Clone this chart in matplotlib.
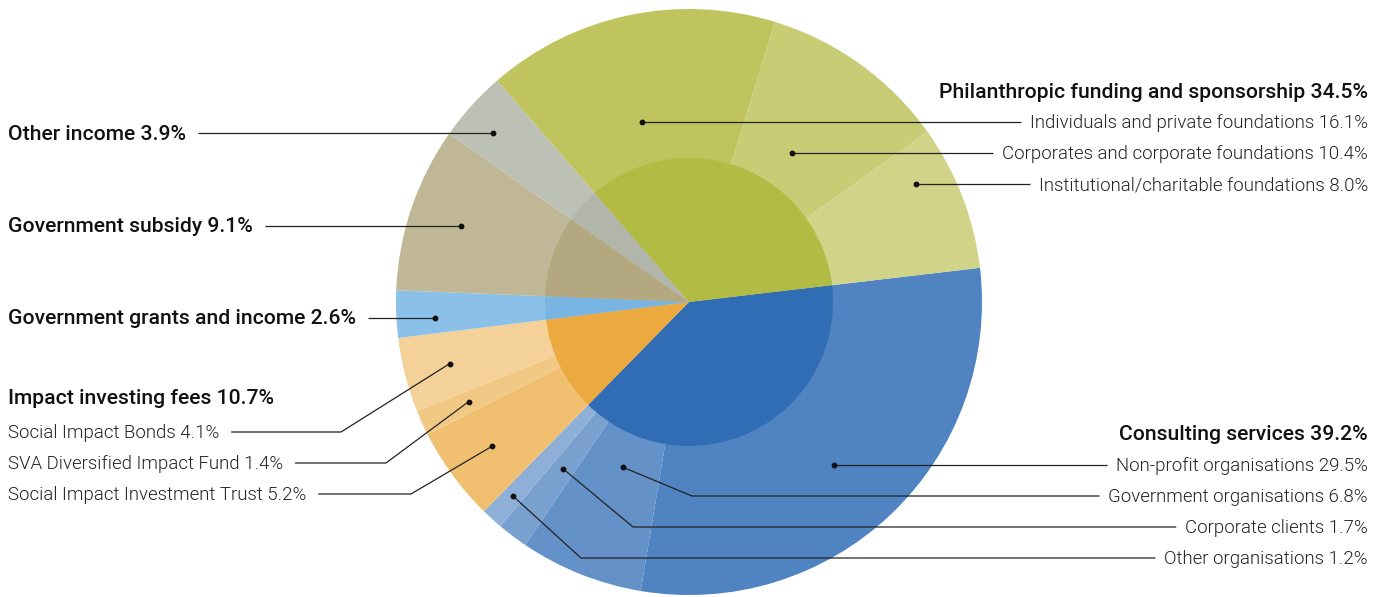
import numpy as np
import matplotlib.pyplot as plt

plt.rcParams['font.family'] = ['Roboto', 'DejaVu Sans']

# main categories (inner circle), clockwise from the right
categories = ["Consulting services", "Impact investing fees", "Government grants and income",
              "Government subsidy", "Other income", "Philanthropic funding and sponsorship"]
cat_values = [39.2, 10.7, 2.6, 9.1, 3.9, 34.5]
cat_colors = ["#306db5", "#eca940", "#79b5e2", "#b3a880", "#b2b5aa", "#b2bb43"]

# sub categories (outer ring), same order
sub_names = ["Non-profit organisations", "Government organisations", "Corporate clients",
             "Other organisations", "Social Impact Investment Trust", "SVA Diversified Impact Fund",
             "Social Impact Bonds", "Government grants and income", "Government subsidy",
             "Other income", "Individuals and private foundations",
             "Corporates and corporate foundations", "Institutional/charitable foundations"]
sub_values = [29.5, 6.8, 1.7, 1.2, 5.2, 1.4, 4.1, 2.6, 9.1, 3.9, 16.1, 10.4, 8.0]
sub_parent = [0, 0, 0, 0, 1, 1, 1, 2, 3, 4, 5, 5, 5]
sub_colors = ["#4f83c2", "#6391c8", "#79a0cf", "#8eafd8", "#f0c070", "#f2c885", "#f3d198",
              "#8bc0e8", "#bfb795", "#bdc0b5", "#bfc45f", "#c7cc75", "#d0d388"]

W, H = 1386, 597
cx, cy = 689, 302
R_OUT, R_IN = 293, 144
START = -6.7

fig = plt.figure(figsize=(W / 100, H / 100), dpi=100)
ax = fig.add_axes([0, 0, 1, 1])
outer, _ = ax.pie(sub_values, colors=sub_colors, radius=R_OUT, center=(cx, cy),
                  startangle=START, counterclock=True, wedgeprops=dict(linewidth=0))
inner, _ = ax.pie(cat_values, colors=cat_colors, radius=R_IN, center=(cx, cy),
                  startangle=START, counterclock=True, wedgeprops=dict(linewidth=0))
ax.set_xlim(0, W)
ax.set_ylim(H, 0)
ax.set_aspect('equal')
ax.axis('off')

# label layout (pixel rows, from top)
RIGHT_X, LEFT_X = 1368, 8
heading_y = {0: 434, 1: 398, 5: 91}
row_y = {0: 465, 1: 496, 2: 527, 3: 558, 4: 494, 5: 463, 6: 432,
         7: 318, 8: 226, 9: 133, 10: 122, 11: 153, 12: 184}
dot_r = {0: 218, 1: 178, 2: 209, 3: 262, 4: 244, 5: 242, 6: 247,
         7: 255, 8: 240, 9: 259, 10: 186, 11: 181, 12: 256}
elbow_x = {1: 692, 2: 633, 3: 581, 4: 411, 5: 386, 6: 341}
right_side = {0, 1, 2, 3, 10, 11, 12}

HEAD = dict(fontsize=15.2, fontweight='medium', color='#111111')
SUB = dict(fontsize=13.4, fontweight=300, color='#222222')

renderer = fig.canvas.get_renderer()
inv = ax.transData.inverted()

for c, y in heading_y.items():
    ha, x = ('right', RIGHT_X) if c in (0, 5) else ('left', LEFT_X)
    ax.text(x, y + 1, f"{categories[c]} {cat_values[c]:.1f}%", ha=ha, va='center', **HEAD)

for i, name in enumerate(sub_names):
    ty = row_y[i]
    single = sub_parent.count(sub_parent[i]) == 1
    style = HEAD if single else SUB
    right = i in right_side
    t = ax.text(RIGHT_X if right else LEFT_X, ty + 1, f"{name} {sub_values[i]:.1f}%",
                ha='right' if right else 'left', va='center', **style)
    bb = t.get_window_extent(renderer)
    x0 = inv.transform((bb.x0, 0))[0]
    x1 = inv.transform((bb.x1, 0))[0]
    line_end = x0 - 9 if right else x1 + 12

    w = outer[i]
    mid = np.deg2rad((w.theta1 + w.theta2) / 2)
    r = dot_r[i]
    if i in elbow_x:
        dx_, dy_ = cx + r * np.cos(mid), cy + r * np.sin(mid)
        xs = [dx_, elbow_x[i], line_end]
        ys = [dy_, ty, ty]
    else:
        dx_ = cx + np.sqrt(r ** 2 - (ty - cy) ** 2) * np.sign(np.cos(mid))
        dy_ = ty
        xs = [dx_, line_end]
        ys = [ty, ty]
    ax.plot(xs, ys, color='#222222', lw=0.9, solid_capstyle='butt', zorder=3)
    ax.plot(dx_, dy_, 'o', color='#111111', ms=3.2, zorder=4)

fig.savefig('out.png', dpi=100)
